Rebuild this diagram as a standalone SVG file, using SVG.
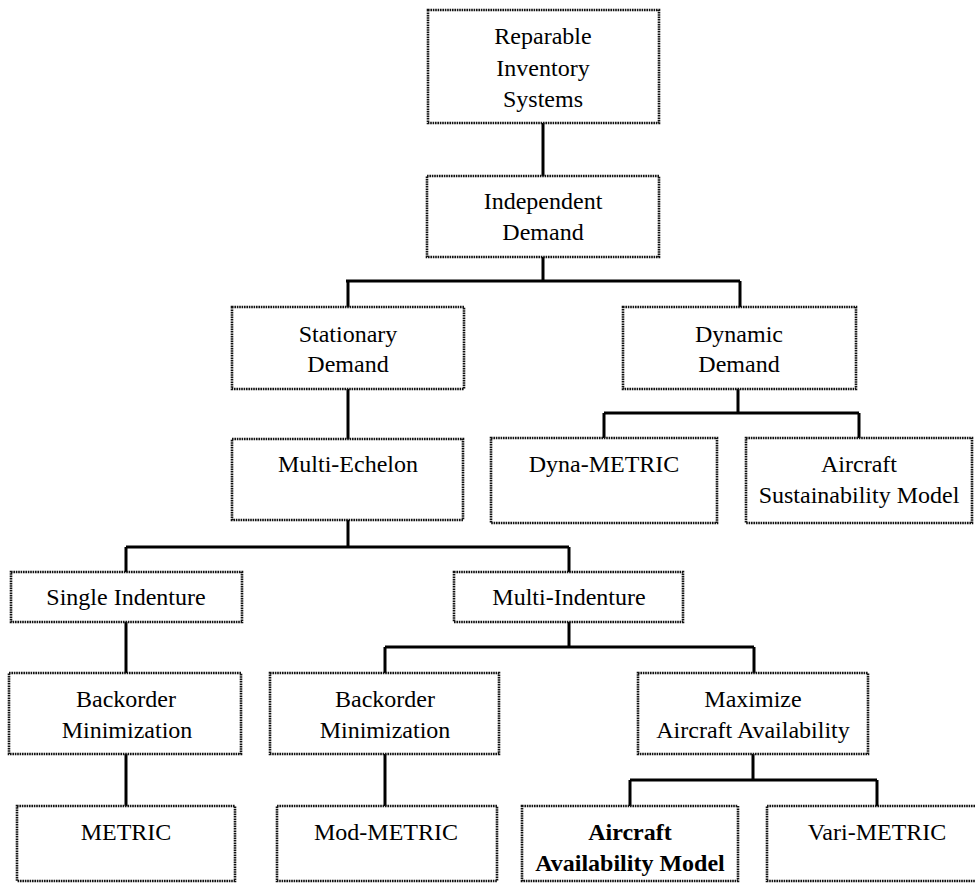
<svg xmlns="http://www.w3.org/2000/svg" width="975" height="886" viewBox="0 0 975 886">
<style>
.box{fill:#fff;stroke:#111;stroke-width:2.6;stroke-dasharray:1.6 0.8}
.t{font-family:"Liberation Serif","Times New Roman",serif;font-size:24px;fill:#000;text-anchor:middle}
.b{font-weight:bold}
.c{fill:none;stroke:#000;stroke-width:3}
</style>
<rect width="975" height="886" fill="#fff"/>
<g id="connectors">
<path class="c" d="M543 123V176"/>
<path class="c" d="M543 257V281M346 281H740M348 281V307M740 281V307"/>
<path class="c" d="M348 389V439"/>
<path class="c" d="M738 389V413M604 413H859M604 413V438M859 413V438"/>
<path class="c" d="M348 520V547M126 547H569M126 547V572M569 547V572"/>
<path class="c" d="M126 622V673"/>
<path class="c" d="M569 622V647M385 647H754M385 647V673M754 647V673"/>
<path class="c" d="M126 754V806"/>
<path class="c" d="M385 754V806"/>
<path class="c" d="M753 754V780M630 780H877M630 780V806M877 780V806"/>
</g>
<g id="reparable"><rect class="box" x="428" y="10" width="231" height="113"/>
<text class="t" x="543" y="44">Reparable</text><text class="t" x="543" y="76">Inventory</text><text class="t" x="543" y="107">Systems</text></g>
<g id="independent"><rect class="box" x="427" y="176" width="232" height="81"/>
<text class="t" x="543" y="209">Independent</text><text class="t" x="543" y="240">Demand</text></g>
<g id="stationary"><rect class="box" x="232" y="307" width="232" height="82"/>
<text class="t" x="348" y="342">Stationary</text><text class="t" x="348" y="372">Demand</text></g>
<g id="dynamic"><rect class="box" x="623" y="307" width="233" height="82"/>
<text class="t" x="739" y="342">Dynamic</text><text class="t" x="739" y="372">Demand</text></g>
<g id="multiechelon"><rect class="box" x="232" y="439" width="231" height="81"/>
<text class="t" x="348" y="472">Multi-Echelon</text></g>
<g id="dynametric"><rect class="box" x="491" y="438" width="226" height="85"/>
<text class="t" x="604" y="472">Dyna-METRIC</text></g>
<g id="asm"><rect class="box" x="746" y="438" width="226" height="85"/>
<text class="t" x="859" y="472">Aircraft</text><text class="t" x="859" y="503">Sustainability Model</text></g>
<g id="single"><rect class="box" x="11" y="572" width="231" height="50"/>
<text class="t" x="126" y="605">Single Indenture</text></g>
<g id="multiindenture"><rect class="box" x="454" y="572" width="229" height="50"/>
<text class="t" x="569" y="605">Multi-Indenture</text></g>
<g id="backorder1"><rect class="box" x="9" y="673" width="232" height="81"/>
<text class="t" x="126" y="707">Backorder</text><text class="t" x="127" y="738">Minimization</text></g>
<g id="backorder2"><rect class="box" x="270" y="673" width="229" height="81"/>
<text class="t" x="385" y="707">Backorder</text><text class="t" x="385" y="738">Minimization</text></g>
<g id="maximize"><rect class="box" x="638" y="673" width="230" height="81"/>
<text class="t" x="753" y="707">Maximize</text><text class="t" x="753" y="738">Aircraft Availability</text></g>
<g id="metric"><rect class="box" x="17" y="806" width="218" height="75"/>
<text class="t" x="126" y="840">METRIC</text></g>
<g id="modmetric"><rect class="box" x="277" y="806" width="220" height="75"/>
<text class="t" x="386" y="840">Mod-METRIC</text></g>
<g id="aam"><rect class="box" x="522" y="806" width="216" height="75"/>
<text class="t b" x="630" y="840">Aircraft</text><text class="t b" x="630" y="871">Availability Model</text></g>
<g id="varimetric"><rect class="box" x="767" y="806" width="220" height="75"/>
<text class="t" x="877" y="840">Vari-METRIC</text></g>
</svg>
